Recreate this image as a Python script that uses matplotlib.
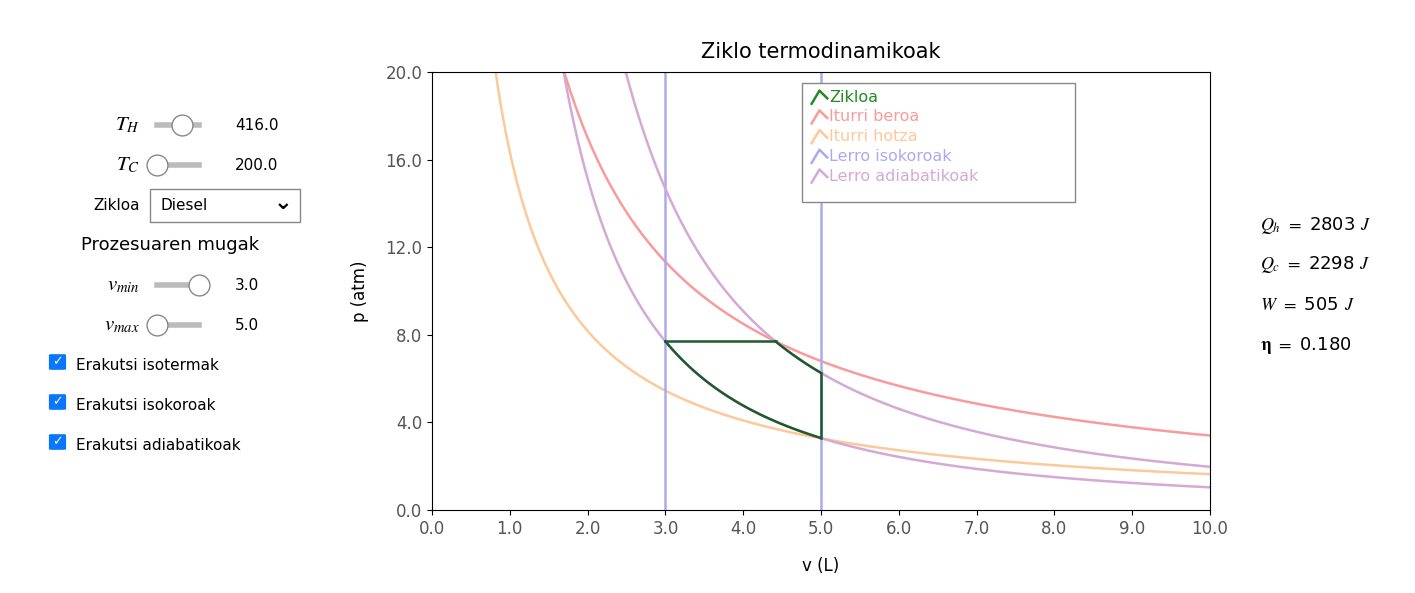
import numpy as np
import matplotlib.pyplot as plt
from matplotlib.patches import Rectangle, FancyBboxPatch

plt.rcParams['mathtext.fontset'] = 'stix'

# Values
T_H = 416.0
T_C = 200.0
v_min = 3.0
v_max = 5.0
k_hot = 34.0          # p*v along hot isotherm (atm*L)
k_cold = 16.35        # p*v along cold isotherm
gamma = 5.0 / 3.0
p_top = 7.7           # pressure of the isobaric stroke
results = [r'$\mathbf{\mathit{Q_h}}$ $=$ 2803 $\mathbf{\mathit{J}}$',
           r'$\mathbf{\mathit{Q_c}}$ $=$ 2298 $\mathbf{\mathit{J}}$',
           r'$\mathbf{\mathit{W}}$ $=$ 505 $\mathbf{\mathit{J}}$',
           r'$\mathbf{\eta}$ $=$ 0.180']
x_ticks = np.arange(0, 10.01, 1.0)
y_ticks = np.arange(0, 20.01, 4.0)

c_cycle = '#1f5a2c'
c_hot = '#f99a9c'
c_cold = '#fdc99a'
c_iso = '#aaaaf0'
c_adi = '#d5a9d6'

v = np.linspace(0.3, 10, 600)
v_a = k_hot / p_top
p_adi_hi = p_top * v_a ** gamma
p_adi_lo = p_top * v_min ** gamma

fig = plt.figure(figsize=(14.15, 5.93), dpi=100)
ax = fig.add_axes([432 / 1415, 83 / 593, 778 / 1415, 438 / 593])

ax.plot(v, k_hot / v, color=c_hot, lw=1.8)
ax.plot(v, k_cold / v, color=c_cold, lw=1.8)
ax.axvline(v_min, color=c_iso, lw=1.8)
ax.axvline(v_max, color=c_iso, lw=1.8)
ax.plot(v, p_adi_hi / v ** gamma, color=c_adi, lw=1.8)
ax.plot(v, p_adi_lo / v ** gamma, color=c_adi, lw=1.8)

# Diesel cycle
ax.plot([v_min, v_a], [p_top, p_top], color=c_cycle, lw=1.8)
va = np.linspace(v_a, v_max, 50)
ax.plot(va, p_adi_hi / va ** gamma, color=c_cycle, lw=1.8)
ax.plot([v_max, v_max], [p_adi_hi / v_max ** gamma, p_adi_lo / v_max ** gamma], color=c_cycle, lw=1.8)
vb = np.linspace(v_min, v_max, 80)
ax.plot(vb, p_adi_lo / vb ** gamma, color=c_cycle, lw=1.8)

ax.set_xlim(0, 10)
ax.set_ylim(0, 20)
ax.set_xticks(x_ticks)
ax.set_yticks(y_ticks)
ax.set_xticklabels([f'{t:.1f}' for t in x_ticks], fontsize=12, color='#555555')
ax.set_yticklabels([f'{t:.1f}' for t in y_ticks], fontsize=12, color='#555555')
ax.set_xlabel('v (L)', fontsize=12, labelpad=14)
ax.set_ylabel('p (atm)', fontsize=12, labelpad=12)
ax.set_title('Ziklo termodinamikoak', fontsize=15, pad=10)

# legend
labels = [('Zikloa', '#228b22'), ('Iturri beroa', c_hot), ('Iturri hotza', c_cold),
          ('Lerro isokoroak', c_iso), ('Lerro adiabatikoak', c_adi)]
ax.add_patch(Rectangle((4.76, 14.06), 3.51, 5.44, transform=ax.transData,
                       fc='white', ec='#888888', lw=1, zorder=5))
for i, (lab, col) in enumerate(labels):
    y = 18.9 - i * 0.9
    ax.plot([4.88, 4.98, 5.08], [y - 0.35, y + 0.25, y - 0.1], color=col, lw=1.8, zorder=6)
    ax.text(5.1, y - 0.05, lab, color=col, fontsize=11.5, va='center', zorder=6)

# results on the right
for i, r in enumerate(results):
    fig.text(1260 / 1415, 1 - (225 + i * 40) / 593, r, fontsize=13, va='center')

# left control panel
def slider(y, pos, label, value):
    yy = 1 - y / 593
    fig.text(140 / 1415, yy, label, fontsize=15, ha='right', va='center')
    fig.add_artist(plt.Line2D([157 / 1415, 199 / 1415], [yy, yy], color='#bbbbbb', lw=4))
    fig.add_artist(plt.Line2D([(157 + pos * 42) / 1415], [yy], marker='o', markersize=15,
                              mfc='white', mec='#888888', mew=1, zorder=5))
    fig.text(235 / 1415, yy, value, fontsize=11, va='center')

slider(125, 0.6, r'$\mathbf{\mathit{T_H}}$', f'{T_H:.1f}')
slider(165, 0.0, r'$\mathbf{\mathit{T_C}}$', f'{T_C:.1f}')
fig.text(140 / 1415, 1 - 206 / 593, 'Zikloa', fontsize=11, ha='right', va='center')
fig.add_artist(Rectangle((150 / 1415, 1 - 222 / 593), 150 / 1415, 33 / 593,
                         transform=fig.transFigure, fc='white', ec='#888888', lw=1))
fig.text(160 / 1415, 1 - 206 / 593, 'Diesel', fontsize=11, va='center')
fig.text(292 / 1415, 1 - 203 / 593, '⌄', fontsize=16, ha='right', va='center', weight='bold')
fig.text(170 / 1415, 1 - 245 / 593, 'Prozesuaren mugak', fontsize=13, ha='center', va='center')
slider(285, 1.0, r'$\mathbf{\mathit{v_{min}}}$', f'{v_min:.1f}')
slider(325, 0.0, r'$\mathbf{\mathit{v_{max}}}$', f'{v_max:.1f}')
for i, t in enumerate(['Erakutsi isotermak', 'Erakutsi isokoroak', 'Erakutsi adiabatikoak']):
    yy = 1 - (362 + i * 40) / 593
    fig.add_artist(FancyBboxPatch((51 / 1415, yy - 0.011), 13 / 1415, 0.022,
                                  boxstyle='round,pad=0.001', transform=fig.transFigure,
                                  fc='#0a75ff', ec='#0a75ff'))
    fig.text(57.5 / 1415, yy, '✓', color='white', fontsize=9, ha='center', va='center',
             weight='bold')
    fig.text(76 / 1415, 1 - (365 + i * 40) / 593, t, fontsize=11, va='center')

plt.savefig('out.png')
